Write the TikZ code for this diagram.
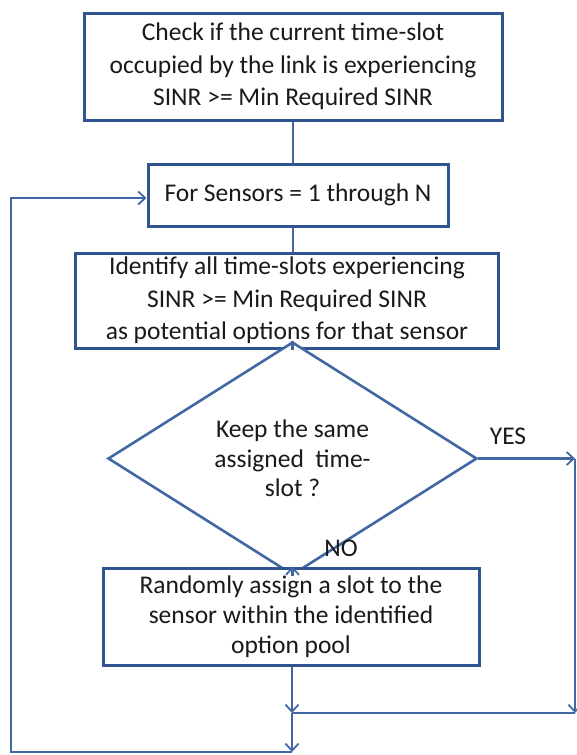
\documentclass[tikz,border=0pt]{standalone}
\usepackage{fontspec}
\setmainfont{Carlito}
\usetikzlibrary{arrows.meta,shapes.geometric}
\definecolor{rahmen}{HTML}{30548F}
\definecolor{linie}{HTML}{4268A3}
\definecolor{schrift}{HTML}{1A1A1A}
\tikzset{
  kasten/.style={draw=rahmen,line width=3pt,fill=white,text=schrift,align=center,
    inner sep=0pt,font=\fontsize{25.5}{32.5}\selectfont},
  raute/.style={kasten,diamond,line width=2.6pt,draw=linie,font=\fontsize{25.5}{29.5}\selectfont},
  verb/.style={linie,line width=2.4pt},
  pfeil/.style={verb,-{Straight Barb[length=7pt,width=13pt,line width=1.8pt]}},
  marke/.style={text=schrift,font=\fontsize{25.5}{28}\selectfont},
}

\begin{document}
\begin{tikzpicture}[x=1pt,y=-1pt]
  \useasboundingbox (0,0) rectangle (577,755);
  \fill[white] (0,0) rectangle (577,755);
  % steps of the loop
  \node[kasten,minimum width=418pt,minimum height=107pt] (check) at (293,66.5)
    {Check if the current time-slot\\occupied by the link is experiencing\\SINR >= Min Required SINR};
  \node[kasten,minimum width=300pt,minimum height=62pt] (sensors) at (298,195)
    {For Sensors = 1 through N};
  \node[kasten,minimum width=423pt,minimum height=95pt] (ident) at (287,300.5)
    {Identify all time-slots experiencing\\SINR >= Min Required SINR\\as potential options for that sensor};
  \node[raute,minimum width=369pt,minimum height=153pt] (keep) at (292.5,458.5)
    {Keep the same\\assigned\ \ time-\\slot ?};
  \node[kasten,minimum width=376pt,minimum height=97pt,font=\fontsize{25.5}{30}\selectfont] (assign) at (291,616.5)
    {Randomly assign a slot to the\\sensor within the identified\\option pool};
  % corners of the return paths
  \coordinate (yes) at (575,458.5);
  \coordinate (join) at (292,713);
  \coordinate (low) at (292,752);
  \coordinate (corner) at (11,752);
  % connectors
  \draw[verb] (check.south -| 293,0) -- (293,0 |- sensors.north);
  \draw[verb] (293,0 |- sensors.south) -- (293,0 |- ident.north);
  \draw[verb] (keep.north |- ident.south) -- (keep.north);
  \draw[pfeil] (keep.south) -- (keep.south |- assign.north);
  \draw[pfeil] (keep.east) -- (yes);
  \draw[pfeil] (yes) -- (yes |- join);
  \draw[verb] (yes |- join) -- (join);
  \draw[pfeil] (assign.south -| join) -- (join);
  \draw[pfeil] (join) -- (low);
  \draw[pfeil] (low) -- (corner) -- (corner |- 0,198) -- (sensors.west |- 0,198);
  \node[marke] (ja) at (508,436) {YES};
  \node[marke] (nein) at (341,548) {NO};
\end{tikzpicture}
\end{document}
